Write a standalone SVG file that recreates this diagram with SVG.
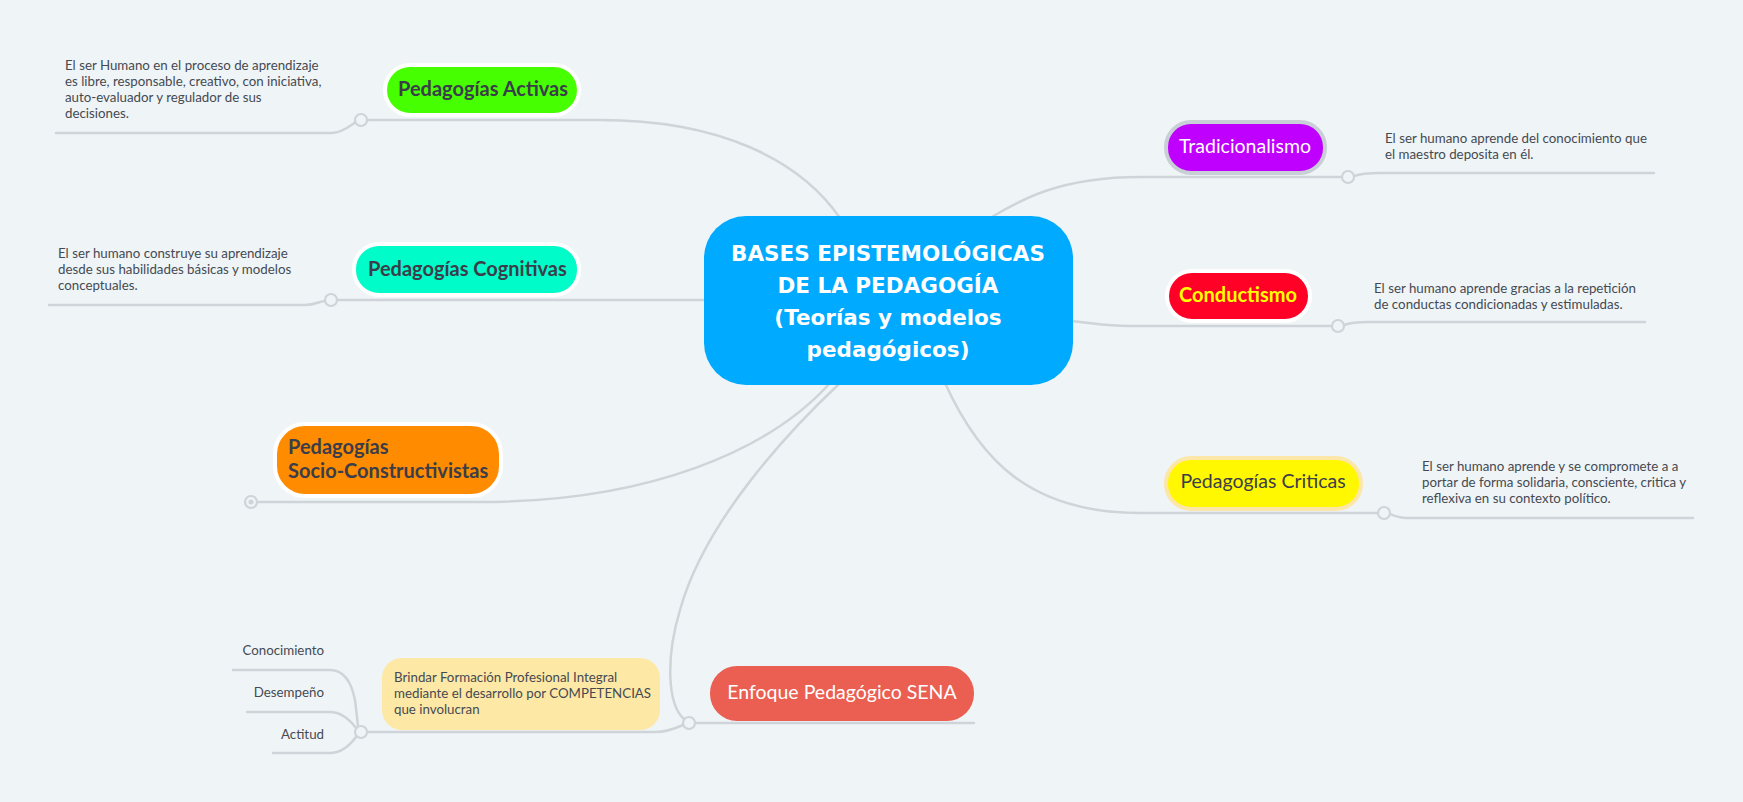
<svg xmlns="http://www.w3.org/2000/svg" width="1743" height="802" viewBox="0 0 1743 802">
<style>
.bg{fill:#eff4f7}
.ln{fill:none;stroke:#cfd4d9;stroke-width:2.5;stroke-linecap:round}
.dot{fill:#eff4f7;stroke:#cfd4d9;stroke-width:2.2}
.desc{font-family:Lato,"Liberation Sans",sans-serif;font-size:13.3px;fill:#454a52}
.nb{font-family:Lato,"Liberation Sans",sans-serif;font-size:20px;font-weight:700;fill:#3b3d4a}
.nr{font-family:Lato,"Liberation Sans",sans-serif;font-size:19.5px;fill:#3b3d4a}
.root{font-family:"DejaVu Sans","Liberation Sans",sans-serif;font-size:21.5px;font-weight:700;fill:#ffffff}
</style>
<rect class="bg" x="0" y="0" width="1743" height="802"/>
<g id="connectors">
<path class="ln" d="M56,133 L332,133 C342,133 350,126 356,122"/>
<path class="ln" d="M367,120 L600,120 C720,120 800,160 840,218"/>
<path class="ln" d="M49,305 L305,305 C315,305 320,301 325,301"/>
<path class="ln" d="M337,300 L710,300"/>
<path class="ln" d="M257,502 L480,502 C650,502 770,450 830,383"/>
<path class="ln" d="M1342,177 L1140,177 C1060,177 1020,200 990,218"/>
<path class="ln" d="M1354,176 C1362,173 1370,173 1380,173 L1654,173"/>
<path class="ln" d="M1332,326 L1130,326 C1100,326 1090,322 1068,321"/>
<path class="ln" d="M1344,325 C1352,322 1360,322 1368,322 L1645,322"/>
<path class="ln" d="M1378,513 L1140,513 C1030,513 980,460 945,383"/>
<path class="ln" d="M1390,514 C1398,518 1405,518 1413,518 L1693,518"/>
<path class="ln" d="M684,719 C668,705 665,660 680,610 C705,520 790,430 840,383"/>
<path class="ln" d="M695,723 L974,723"/>
<path class="ln" d="M683,725 C672,730 665,732 655,732 L367,732"/>
<path class="ln" d="M233,670 L330,670 C345,670 352,685 355,700 L358,726"/>
<path class="ln" d="M247,712 L330,712 C342,712 350,720 356,728"/>
<path class="ln" d="M273,753 L330,753 C342,753 350,745 356,737"/>
<circle class="dot" cx="361" cy="120" r="6"/>
<circle class="dot" cx="331" cy="300" r="6"/>
<circle class="dot" cx="251" cy="502" r="6"/>
<circle cx="251" cy="502" r="2.5" fill="#cfd4d9"/>
<circle class="dot" cx="1348" cy="177" r="6"/>
<circle class="dot" cx="1338" cy="326" r="6"/>
<circle class="dot" cx="1384" cy="513" r="6"/>
<circle class="dot" cx="689" cy="723" r="6"/>
<circle class="dot" cx="361" cy="732" r="6"/>
</g>
<g id="root">
<rect x="704" y="216" width="369" height="169" rx="42" fill="#00aaff"/>
<text class="root" text-anchor="middle"><tspan x="888" y="261">BASES EPISTEMOLÓGICAS</tspan><tspan x="888" y="293">DE LA PEDAGOGÍA</tspan><tspan x="888" y="325">(Teorías y modelos</tspan><tspan x="888" y="357">pedagógicos)</tspan></text>
</g>
<g id="activas">
<rect x="385" y="65" width="194" height="50" rx="25" fill="#46ff00" stroke="#ffffff" stroke-width="4"/>
<text class="nb" x="398" y="96">Pedagogías Activas</text>
<text class="desc"><tspan x="65" y="70">El ser Humano en el proceso de aprendizaje</tspan><tspan x="65" y="86">es libre, responsable, creativo, con iniciativa,</tspan><tspan x="65" y="102">auto-evaluador y regulador de sus</tspan><tspan x="65" y="118">decisiones.</tspan></text>
</g>
<g id="cognitivas">
<rect x="354" y="244" width="225" height="51" rx="25" fill="#00fcc8" stroke="#ffffff" stroke-width="4"/>
<text class="nb" x="368" y="276">Pedagogías Cognitivas</text>
<text class="desc"><tspan x="58" y="258">El ser humano construye su aprendizaje</tspan><tspan x="58" y="274">desde sus habilidades básicas y modelos</tspan><tspan x="58" y="290">conceptuales.</tspan></text>
</g>
<g id="socio">
<rect x="275" y="424" width="226" height="72" rx="30" fill="#ff8c00" stroke="#ffffff" stroke-width="4"/>
<text class="nb"><tspan x="288" y="454">Pedagogías</tspan><tspan x="288" y="478">Socio-Constructivistas</tspan></text>
</g>
<g id="tradicionalismo">
<rect x="1166" y="122" width="159" height="51" rx="25" fill="#bf00ff" stroke="#c9cfd6" stroke-width="4"/>
<text class="nr" x="1245" y="153" text-anchor="middle" style="fill:#ffffff">Tradicionalismo</text>
<text class="desc"><tspan x="1385" y="143">El ser humano aprende del conocimiento que</tspan><tspan x="1385" y="159">el maestro deposita en él.</tspan></text>
</g>
<g id="conductismo">
<rect x="1167" y="271" width="143" height="50" rx="25" fill="#ff0026" stroke="#ffffff" stroke-width="4"/>
<text class="nb" x="1238" y="302" text-anchor="middle" style="fill:#ffff00">Conductismo</text>
<text class="desc"><tspan x="1374" y="293">El ser humano aprende gracias a la repetición</tspan><tspan x="1374" y="309">de conductas condicionadas y estimuladas.</tspan></text>
</g>
<g id="criticas">
<rect x="1166" y="458" width="195" height="51" rx="25" fill="#fff800" stroke="#fde7a8" stroke-width="4"/>
<text class="nr" x="1263" y="488" text-anchor="middle">Pedagogías Criticas</text>
<text class="desc"><tspan x="1422" y="471">El ser humano aprende y se compromete a a</tspan><tspan x="1422" y="487">portar de forma solidaria, consciente, critica y</tspan><tspan x="1422" y="503">reflexiva en su contexto político.</tspan></text>
</g>
<g id="sena">
<rect x="710" y="666" width="264" height="55" rx="27" fill="#ea5f51"/>
<text class="nr" x="842" y="699" text-anchor="middle" style="fill:#ffffff">Enfoque Pedagógico SENA</text>
</g>
<g id="brindar">
<rect x="382" y="658" width="278" height="72" rx="20" fill="#fde8a6"/>
<text class="desc"><tspan x="394" y="682">Brindar Formación Profesional Integral</tspan><tspan x="394" y="698">mediante el desarrollo por COMPETENCIAS</tspan><tspan x="394" y="714">que involucran</tspan></text>
</g>
<g id="conocimiento"><text class="desc" x="324" y="655" text-anchor="end">Conocimiento</text></g>
<g id="desempeno"><text class="desc" x="324" y="697" text-anchor="end">Desempeño</text></g>
<g id="actitud"><text class="desc" x="324" y="739" text-anchor="end">Actitud</text></g>
</svg>
